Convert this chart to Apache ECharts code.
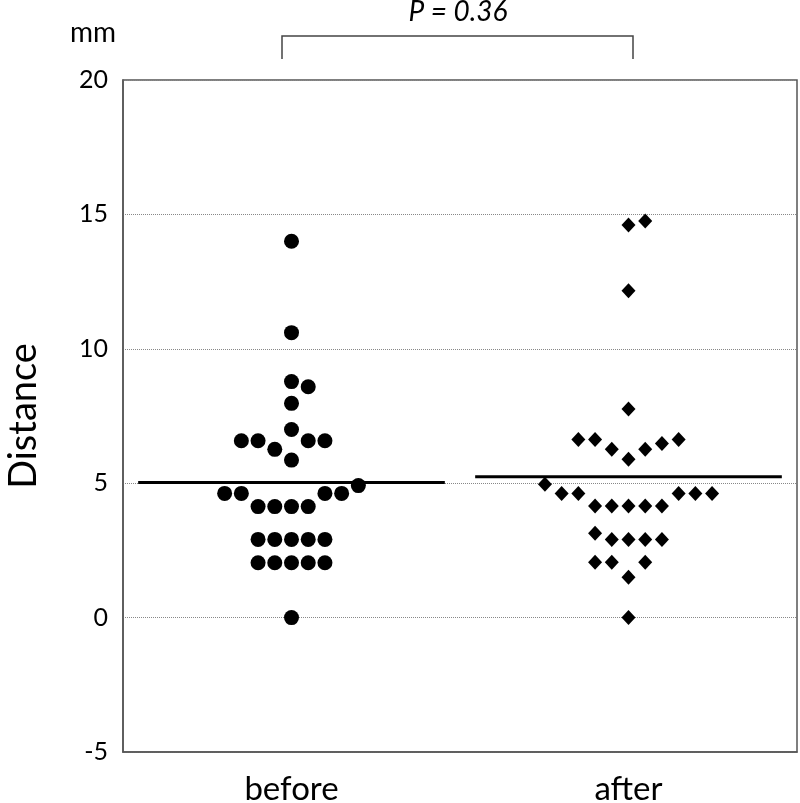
<!DOCTYPE html>
<html>
<head>
<meta charset="utf-8">
<script src="https://cdn.jsdelivr.net/npm/echarts@6/dist/echarts.min.js"></script>
<style>html,body{margin:0;padding:0;background:#fff}#c{width:800px;height:803px}</style>
</head>
<body>
<div id="c"></div>
<script>
var categories = ['before', 'after'];
var yTicks = [-5, 0, 5, 10, 15, 20];
// values (mm)
var beforeValues = [14.0, 10.6, 8.78, 8.59, 7.97, 7.0, 6.58, 6.58, 6.58, 6.58, 6.26, 5.86, 4.91, 4.62, 4.62, 4.62, 4.62, 4.13, 4.13, 4.13, 4.13, 2.91, 2.91, 2.91, 2.91, 2.91, 2.04, 2.04, 2.04, 2.04, 2.04, 0];
// horizontal swarm slot of each dot (as seen in the picture)
var beforeSlots = [0, 0, 0, 1, 0, 0, -3, -2, 1, 2, -1, 0, 4, -4, -3, 2, 3, -2, -1, 0, 1, -2, -1, 0, 1, 2, -2, -1, 0, 1, 2, 0];
var afterValues = [14.61, 14.75, 12.16, 7.76, 6.63, 6.63, 6.63, 6.26, 6.26, 6.48, 5.89, 4.96, 4.62, 4.62, 4.62, 4.62, 4.62, 4.15, 4.15, 4.15, 4.15, 4.15, 3.14, 2.91, 2.91, 2.91, 2.91, 2.06, 2.06, 2.06, 1.5, 0];
var afterSlots = [0, 1, 0, 0, -3, -2, 3, -1, 1, 2, 0, -5, -4, -3, 3, 4, 5, -2, -1, 0, 1, 2, -2, -1, 0, 1, 2, -2, -1, 1, 0, 0];
var means = [5.03, 5.24];
var pLabel = 'P = 0.36';

var SLOT = 0.0496, HALF = 0.455;
function pts(vals, slots, ci) {
  return vals.map(function (v, i) { return [ci + 0.5 + slots[i] * SLOT, v]; });
}
var FONT = 'Lato, "Open Sans", sans-serif';
var chart = echarts.init(document.getElementById('c'), null, {renderer: 'canvas'});
chart.setOption({
  animation: false,
  backgroundColor: '#fff',
  grid: {left: 123, right: 3, top: 80, bottom: 51, show: true, borderColor: '#555', borderWidth: 1.5, backgroundColor: 'transparent', containLabel: false, outerBoundsMode: 'none'},
  xAxis: {
    type: 'value', min: 0, max: 2, interval: 0.5,
    axisLine: {show: true, onZero: false, lineStyle: {color: '#555', width: 1.5}},
    axisTick: {show: false},
    splitLine: {show: false},
    axisLabel: {
      fontFamily: FONT, fontSize: 33, color: '#000', margin: 21,
      formatter: function (v) { var k = Math.round(v * 2); return (k % 2 === 1) ? categories[(k - 1) / 2] : ''; }
    }
  },
  yAxis: {
    type: 'value', min: yTicks[0], max: yTicks[yTicks.length - 1], interval: 5,
    name: 'Distance', nameLocation: 'middle', nameGap: 80,
    nameTextStyle: {fontFamily: FONT, fontSize: 38, color: '#000'},
    axisLine: {show: true, lineStyle: {color: '#555', width: 1.5}},
    axisTick: {show: false},
    axisLabel: {fontFamily: FONT, fontSize: 25, color: '#000', margin: 15},
    splitLine: {show: true, lineStyle: {color: '#888', type: 'dotted', width: 1}}
  },
  series: [
    {type: 'scatter', symbol: 'circle', symbolSize: 15, itemStyle: {color: '#000', opacity: 1}, data: pts(beforeValues, beforeSlots, 0), z: 3},
    {type: 'scatter', symbol: 'diamond', symbolSize: [14, 15], itemStyle: {color: '#000', opacity: 1}, data: pts(afterValues, afterSlots, 1), z: 3},
    {type: 'line', symbol: 'none', lineStyle: {color: '#000', width: 3}, data: [[0.5 - HALF, means[0]], [0.5 + HALF, means[0]]], z: 4},
    {type: 'line', symbol: 'none', lineStyle: {color: '#000', width: 3}, data: [[1.5 - HALF, means[1]], [1.5 + HALF, means[1]]], z: 4}
  ],
  graphic: [
    {type: 'text', x: 93, y: 33, style: {text: 'mm', fontFamily: FONT, fontSize: 28, fill: '#000', align: 'center', verticalAlign: 'middle'}},
    {type: 'text', x: 458, y: 12, style: {text: pLabel, fontFamily: FONT, fontSize: 28, fontStyle: 'italic', fill: '#000', align: 'center', verticalAlign: 'middle'}},
    {type: 'polyline', shape: {points: [[282, 59], [282, 36], [633, 36], [633, 59]]}, style: {stroke: '#444', lineWidth: 1.5, fill: null}}
  ]
});
</script>
</body>
</html>
